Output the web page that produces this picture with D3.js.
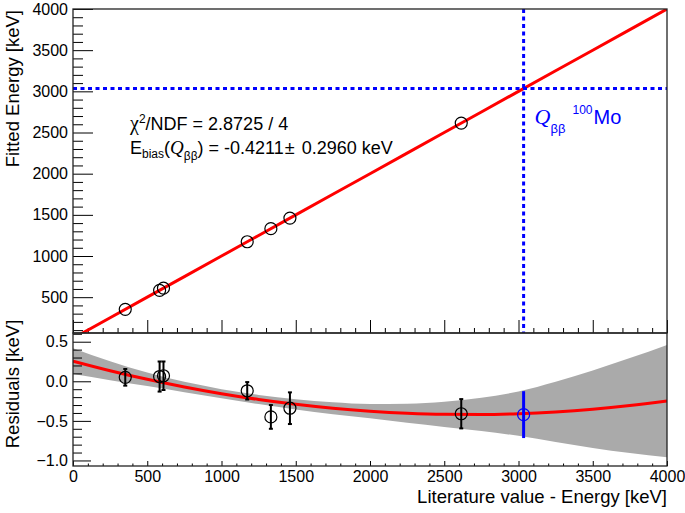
<!DOCTYPE html>
<html>
<head>
<meta charset="utf-8">
<script src="https://cdn.jsdelivr.net/npm/d3@7"></script>
<style>
  html, body { margin: 0; padding: 0; background: #fff; }
  svg { display: block; }
  text { font-family: "Liberation Sans", Arial, Helvetica, sans-serif; }
</style>
</head>
<body>
<svg id="chart" width="685" height="513"></svg>
<script>
// ---------------- data ----------------
const litE      = [351.9, 583.2, 609.3, 1173.2, 1332.5, 1460.8, 2614.5];
const fittedE   = [351.95, 583.26, 609.37, 1173.08, 1332.05, 1460.46, 2614.09];
const resid     = [0.05, 0.06, 0.07, -0.12, -0.45, -0.34, -0.41];
const residErr  = [0.105, 0.19, 0.18, 0.11, 0.15, 0.20, 0.185];
const qbbE      = 3034.4;
const qbbBias   = -0.4211;
const qbbErr    = 0.2960;
const gridE     = [0, 250, 500, 750, 1000, 1250, 1500, 1750, 2000, 2250, 2500, 2750, 3000, 3250, 3500, 3750, 4000];
const fitResid  = [0.255, 0.134, 0.025, -0.072, -0.157, -0.230, -0.291, -0.341, -0.378, -0.404, -0.417, -0.419, -0.409, -0.387, -0.353, -0.307, -0.250];
const bandHalf  = [0.163, 0.12, 0.085, 0.065, 0.058, 0.058, 0.065, 0.075, 0.09, 0.12, 0.16, 0.21, 0.28, 0.38, 0.49, 0.60, 0.71];
const xTicks    = [0, 500, 1000, 1500, 2000, 2500, 3000, 3500, 4000];
const yTopTicks = [500, 1000, 1500, 2000, 2500, 3000, 3500, 4000];
const yResTicks = [-1, -0.5, 0, 0.5];
const chiText   = { chi2: "2.8725", ndf: "4" };
const biasText  = { val: "-0.4211", err: "0.2960" };

// ---------------- layout ----------------
const L = 73, R = 667, T = 9, MID = 333, B = 466;
const svg = d3.select("#chart");

const x = d3.scaleLinear().domain([0, 4000]).range([L, R]);
const yTop = d3.scaleLinear().domain([65, 4000]).range([MID, T]);
const yRes = d3.scaleLinear().domain([-1.07, 0.61]).range([B, MID]);

const defs = svg.append("defs");
defs.append("clipPath").attr("id", "clipTop").append("rect")
  .attr("x", L).attr("y", T).attr("width", R - L).attr("height", MID - T);
defs.append("clipPath").attr("id", "clipRes").append("rect")
  .attr("x", L).attr("y", MID).attr("width", R - L).attr("height", B - MID);

const minorX = d3.range(0, 4001, 100).filter(v => v % 500 !== 0);
const minorYTop = d3.range(100, 4001, 100).filter(v => v % 500 !== 0);
const minorYRes = d3.range(-10, 7).map(v => v / 10).filter(v => Math.abs(v * 10) % 5 !== 0);

function styleAxis(g) {
  g.select(".domain").remove();
  g.selectAll("line").attr("stroke", "#000").attr("stroke-width", 1);
  g.selectAll("text").attr("fill", "#000").style("font-size", "16px")
    .style("font-family", "'Liberation Sans', Arial, sans-serif");
}

// ---------- top panel ----------
const gTop = svg.append("g");

gTop.append("g").attr("transform", `translate(${L},0)`)
  .call(d3.axisLeft(yTop).tickValues(yTopTicks).tickSizeInner(-20).tickSizeOuter(0).tickPadding(5).tickFormat(d3.format("d")))
  .call(styleAxis);
gTop.append("g").attr("transform", `translate(${L},0)`)
  .call(d3.axisLeft(yTop).tickValues(minorYTop).tickSizeInner(-10).tickSizeOuter(0).tickFormat(""))
  .call(styleAxis);
gTop.append("g").attr("transform", `translate(0,${MID})`)
  .call(d3.axisBottom(x).tickValues(xTicks).tickSizeInner(-13).tickSizeOuter(0).tickFormat(""))
  .call(styleAxis);
gTop.append("g").attr("transform", `translate(0,${MID})`)
  .call(d3.axisBottom(x).tickValues(minorX).tickSizeInner(-5).tickSizeOuter(0).tickFormat(""))
  .call(styleAxis);

// fit line
const topLine = d3.line().x((d, i) => x(gridE[i])).y((d, i) => yTop(gridE[i] + fitResid[i]));
gTop.append("path").datum(gridE).attr("clip-path", "url(#clipTop)")
  .attr("d", topLine).attr("fill", "none").attr("stroke", "#ff0000").attr("stroke-width", 3);

// points
gTop.selectAll("circle.pt").data(litE).join("circle").attr("class", "pt")
  .attr("cx", d => x(d)).attr("cy", (d, i) => yTop(fittedE[i])).attr("r", 6)
  .attr("fill", "none").attr("stroke", "#000").attr("stroke-width", 1.2);

// Qbb dotted lines
gTop.append("line").attr("x1", x(0)).attr("x2", x(4000)).attr("y1", yTop(qbbE)).attr("y2", yTop(qbbE))
  .attr("stroke", "#0000ff").attr("stroke-width", 3).attr("stroke-dasharray", "4,3.5");
gTop.append("line").attr("x1", x(qbbE)).attr("x2", x(qbbE)).attr("y1", yTop(4000)).attr("y2", MID)
  .attr("stroke", "#0000ff").attr("stroke-width", 3).attr("stroke-dasharray", "4,3.5");

// frame
gTop.append("rect").attr("x", L).attr("y", T).attr("width", R - L).attr("height", MID - T)
  .attr("fill", "none").attr("stroke", "#222").attr("stroke-width", 1.3);

// annotation text
const t1 = svg.append("text").attr("x", 130).attr("y", 130).style("font-size", "18px").attr("fill", "#000");
t1.append("tspan").text("χ").style("font-family", "'Liberation Serif', 'Times New Roman', serif").style("font-size", "20px");
t1.append("tspan").text("2").attr("dy", -7).style("font-size", "12px");
t1.append("tspan").text(`/NDF = ${chiText.chi2} / ${chiText.ndf}`).attr("dy", 7);

const t2 = svg.append("text").attr("x", 130).attr("y", 154).style("font-size", "18px").attr("fill", "#000");
t2.append("tspan").text("E");
t2.append("tspan").text("bias").attr("dy", 4).style("font-size", "12px");
t2.append("tspan").text("(").attr("dy", -4);
t2.append("tspan").text("Q").style("font-family", "'Liberation Serif', 'Times New Roman', serif").style("font-style", "italic").style("font-size", "19px");
t2.append("tspan").text("ββ").attr("dy", 6).style("font-size", "12px");
t2.append("tspan").text(`) = ${biasText.val}`).attr("dy", -6);
t2.append("tspan").text("±").attr("dx", 1);
t2.append("tspan").text(` ${biasText.err} keV`).attr("dx", 2);

// Qbb label (blue)
const t3 = svg.append("text").attr("x", x(qbbE) + 11).attr("y", 124).attr("fill", "#0000ff").style("font-size", "20px");
t3.append("tspan").text("Q").style("font-family", "'Liberation Serif', 'Times New Roman', serif").style("font-style", "italic").style("font-size", "22px");
t3.append("tspan").text("ββ").attr("dy", 9).style("font-size", "13px");
t3.append("tspan").text("100").attr("dx", 7).attr("dy", -19).style("font-size", "12px");
t3.append("tspan").text("Mo").attr("dx", 1).attr("dy", 10);

// ---------- residual panel ----------
const gRes = svg.append("g");

const area = d3.area().x((d, i) => x(gridE[i]))
  .y0((d, i) => yRes(fitResid[i] - bandHalf[i]))
  .y1((d, i) => yRes(fitResid[i] + bandHalf[i]))
  .curve(d3.curveMonotoneX);
gRes.append("path").datum(gridE).attr("clip-path", "url(#clipRes)")
  .attr("d", area).attr("fill", "#aaaaaa");

const resLine = d3.line().x((d, i) => x(gridE[i])).y((d, i) => yRes(fitResid[i])).curve(d3.curveMonotoneX);
gRes.append("path").datum(gridE).attr("clip-path", "url(#clipRes)")
  .attr("d", resLine).attr("fill", "none").attr("stroke", "#ff0000").attr("stroke-width", 3);

gRes.append("g").attr("transform", `translate(${L},0)`)
  .call(d3.axisLeft(yRes).tickValues(yResTicks).tickSizeInner(-18).tickSizeOuter(0).tickPadding(5))
  .call(styleAxis);
gRes.append("g").attr("transform", `translate(${L},0)`)
  .call(d3.axisLeft(yRes).tickValues(minorYRes).tickSizeInner(-9).tickSizeOuter(0).tickFormat(""))
  .call(styleAxis);
gRes.append("g").attr("transform", `translate(0,${B})`)
  .call(d3.axisBottom(x).tickValues(xTicks).tickSizeInner(-5).tickSizeOuter(0).tickPadding(5).tickFormat(d3.format("d")))
  .call(styleAxis);
gRes.append("g").attr("transform", `translate(0,${B})`)
  .call(d3.axisBottom(x).tickValues(minorX).tickSizeInner(-2.5).tickSizeOuter(0).tickFormat(""))
  .call(styleAxis);

// error bars
const eb = gRes.selectAll("g.eb").data(litE).join("g").attr("class", "eb");
eb.append("line").attr("x1", d => x(d)).attr("x2", d => x(d))
  .attr("y1", (d, i) => yRes(resid[i] - residErr[i])).attr("y2", (d, i) => yRes(resid[i] + residErr[i]))
  .attr("stroke", "#000").attr("stroke-width", 2);
eb.append("line").attr("x1", d => x(d) - 2).attr("x2", d => x(d) + 2)
  .attr("y1", (d, i) => yRes(resid[i] - residErr[i])).attr("y2", (d, i) => yRes(resid[i] - residErr[i]))
  .attr("stroke", "#000").attr("stroke-width", 2);
eb.append("line").attr("x1", d => x(d) - 2).attr("x2", d => x(d) + 2)
  .attr("y1", (d, i) => yRes(resid[i] + residErr[i])).attr("y2", (d, i) => yRes(resid[i] + residErr[i]))
  .attr("stroke", "#000").attr("stroke-width", 2);
eb.append("circle").attr("cx", d => x(d)).attr("cy", (d, i) => yRes(resid[i])).attr("r", 6)
  .attr("fill", "none").attr("stroke", "#000").attr("stroke-width", 1.2);

// Qbb point
gRes.append("line").attr("x1", x(qbbE)).attr("x2", x(qbbE))
  .attr("y1", yRes(qbbBias - qbbErr)).attr("y2", yRes(qbbBias + qbbErr))
  .attr("stroke", "#0000ff").attr("stroke-width", 3);
gRes.append("circle").attr("cx", x(qbbE)).attr("cy", yRes(qbbBias)).attr("r", 6)
  .attr("fill", "none").attr("stroke", "#0000ff").attr("stroke-width", 1.3);

gRes.append("rect").attr("x", L).attr("y", MID).attr("width", R - L).attr("height", B - MID)
  .attr("fill", "none").attr("stroke", "#222").attr("stroke-width", 1.3);

// ---------- axis titles ----------
svg.append("text").attr("transform", `translate(19,${T + 1}) rotate(-90)`)
  .attr("text-anchor", "end").style("font-size", "18.5px").attr("fill", "#000")
  .text("Fitted Energy [keV]");
svg.append("text").attr("transform", `translate(19,384) rotate(-90)`)
  .attr("text-anchor", "middle").style("font-size", "18.5px").attr("fill", "#000")
  .text("Residuals [keV]");
svg.append("text").attr("x", R).attr("y", 503)
  .attr("text-anchor", "end").style("font-size", "18.5px").attr("fill", "#000")
  .text("Literature value - Energy [keV]");
</script>
</body>
</html>
